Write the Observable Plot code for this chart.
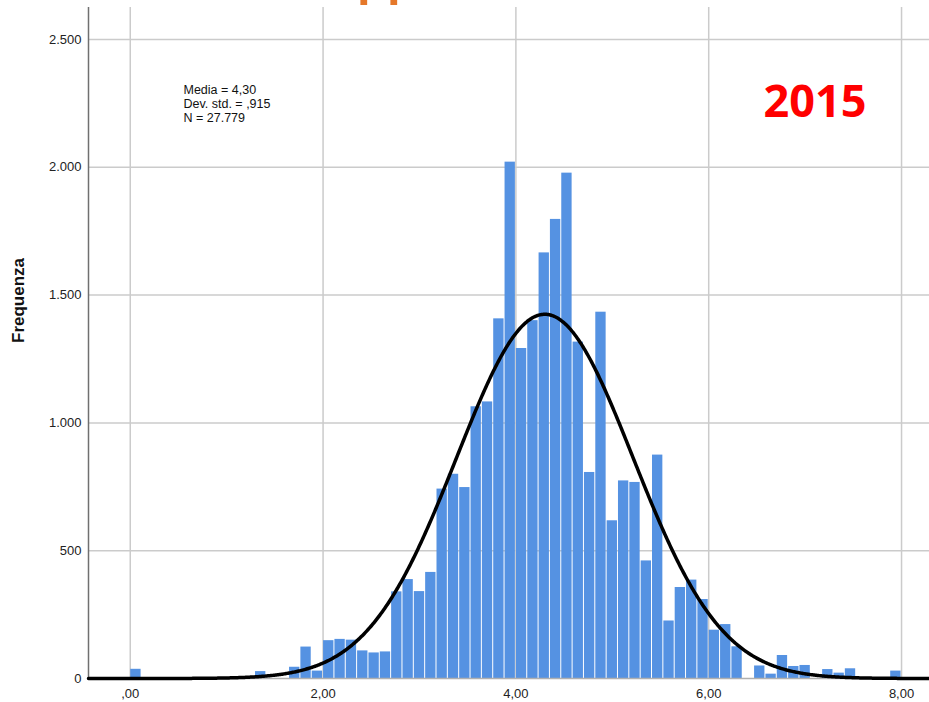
<!DOCTYPE html>
<html><head><meta charset="utf-8">
<script src="https://cdn.jsdelivr.net/npm/d3@7"></script>
<script src="https://cdn.jsdelivr.net/npm/@observablehq/plot@0.6"></script>
<style>
body{margin:0;background:#fff;}
#wrap{position:relative;width:929px;height:702px;overflow:hidden;background:#fff;}
#cut{position:absolute;left:357px;top:-46px;font:bold 49px "Liberation Sans",Arial,sans-serif;color:#e5782a;line-height:49px;z-index:2;}
</style></head><body><div id="wrap"><div id="cut">pp</div></div>
<script>
// histogram counts, 68 bins from 0 to 8
const counts = [36,0,0,0,0,0,0,0,0,0,0,27,0,0,44,123,29,148,153,150,108,100,104,339,387,340,415,741,799,747,1063,1082,1407,2020,1291,1400,1665,1796,1977,1316,806,1433,617,773,767,460,874,225,356,385,309,189,211,124,0,49,17,90,47,51,0,35,21,38,0,0,0,29];
const binMin = 0, binMax = 8, nBins = 68;
const mean = 4.30, sd = 0.915, N = 27779;
const yTicks = [0,500,1000,1500,2000,2500];
const yTickLabels = ["0","500","1.000","1.500","2.000","2.500"];
const xTicks = [0,2,4,6,8];
const xTickLabels = [",00","2,00","4,00","6,00","8,00"];
const statsLines = ["Media = 4,30","Dev. std. = ,915","N = 27.779"];
const yearLabel = "2015";
const yLabel = "Frequenza";

const xDomain = [-0.433, 8.29];
const bw = (binMax - binMin) / nBins;
const bins = counts.map((c, i) => ({x1: binMin + i*bw, x2: binMin + (i+1)*bw, y: c}));
const peak = N*bw/(sd*Math.sqrt(2*Math.PI));
const curve = d3.range(xDomain[0], xDomain[1] + 0.01, 0.01).map(x => ({x, y: peak*Math.exp(-0.5*((x-mean)/sd)**2)}));
const font = '"Liberation Sans", Arial, sans-serif';

const chart = Plot.plot({
  width: 929, height: 702,
  marginLeft: 88, marginRight: 0, marginTop: 7, marginBottom: 24,
  x: {domain: xDomain},
  y: {domain: [0, 2625]},
  style: {fontFamily: font, fontSize: "13px", color: "#222", background: "white"},
  marks: [
    Plot.gridY(yTicks.filter(d => d > 0), {stroke: "#cbcbcb", strokeOpacity: 1, strokeWidth: 1.5}),
    Plot.gridX(xTicks, {stroke: "#cbcbcb", strokeOpacity: 1, strokeWidth: 1.5}),
    Plot.rectY(bins, {x1: "x1", x2: "x2", y: "y", fill: "#5592e2", insetLeft: 0.5, insetRight: 0.5}),
    Plot.ruleY([0], {stroke: "#b0b0b0", strokeWidth: 1.5}),
    Plot.ruleX([xDomain[0]], {stroke: "#707070", strokeWidth: 1.5}),
    Plot.line(curve, {x: "x", y: "y", stroke: "black", strokeWidth: 3.5}),
    Plot.axisY(yTicks, {tickSize: 0, tickPadding: 7, tickFormat: d => yTickLabels[yTicks.indexOf(d)], label: null, fontSize: 13}),
    Plot.axisX(xTicks, {tickSize: 0, tickPadding: 10, tickFormat: d => xTickLabels[xTicks.indexOf(d)], label: null, fontSize: 13}),
    Plot.text([statsLines.join("\n")], {frameAnchor: "top-left", dx: 95, dy: 77, lineAnchor: "top", textAnchor: "start", lineHeight: 1.12, fontSize: 12.5, fill: "#111"}),
    Plot.text([yearLabel], {frameAnchor: "top-right", dx: -63, dy: 95, lineAnchor: "middle", textAnchor: "end", fontSize: 45, fontWeight: "bold", fill: "#ff0000", fontFamily: '"Open Sans", sans-serif'}),
    Plot.text([yLabel], {frameAnchor: "left", dx: -70, rotate: -90, fontSize: 17, fontWeight: "bold", fill: "#111", letterSpacing: "1.8px"})
  ]
});
document.getElementById("wrap").prepend(chart);
</script>
</body></html>
